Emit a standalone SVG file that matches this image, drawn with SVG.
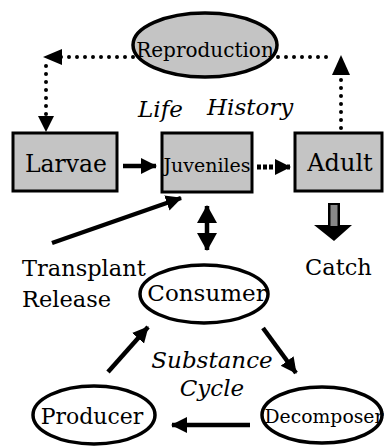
<svg xmlns="http://www.w3.org/2000/svg" width="384" height="448" viewBox="0 0 384 448">
<style>
.lbl{font-family:'DejaVu Serif','Liberation Serif',serif;fill:#000}
.it{font-family:'DejaVu Serif','Liberation Serif',serif;font-style:italic;fill:#000}
.box{fill:#c4c4c4;stroke:#000;stroke-width:3}
.ell{fill:#fff;stroke:#000;stroke-width:3.5}
.dot{fill:none;stroke:#000;stroke-width:4;stroke-linecap:round;stroke-dasharray:0 8}
.arr{fill:none;stroke:#000;stroke-width:4.5}
</style>
<defs>
<marker id="ah" markerUnits="userSpaceOnUse" markerWidth="18" markerHeight="18" refX="15" refY="9" orient="auto">
<path d="M0,1 L16,9 L0,17 Z" fill="#000"/>
</marker>
<marker id="ahs" markerUnits="userSpaceOnUse" markerWidth="20" markerHeight="22" refX="17" refY="11" orient="auto-start-reverse">
<path d="M0,1 L18,11 L0,21 Z" fill="#000"/>
</marker>
</defs>
<rect width="384" height="448" fill="#fff"/>

<g id="connectors">
<polyline class="dot" points="133,57 60,57"/>
<path d="M43,57 L62,49 L62,65 Z" fill="#000"/>
<polyline class="dot" points="46,66 46,116"/>
<path d="M38,116 L54,116 L46,132 Z" fill="#000"/>
<polyline class="dot" points="278,57 333,57"/>
<path d="M341,55 L332,75 L350,75 Z" fill="#000"/>
<polyline class="dot" points="341,80 341,130"/>
<line class="arr" x1="123" y1="166" x2="156" y2="166" marker-end="url(#ah)"/>
<line x1="257" y1="167" x2="290" y2="167" stroke="#000" stroke-width="5" stroke-dasharray="4 2" marker-end="url(#ah)"/>
<line class="arr" x1="52" y1="243" x2="181" y2="198" marker-end="url(#ah)"/>
<line class="arr" x1="207" y1="206" x2="207" y2="250" marker-start="url(#ahs)" marker-end="url(#ahs)"/>
<path d="M328,203 L340,203 L340,225 L352,225 L334,241 L314,225 L328,225 Z" fill="#000"/>
<rect x="330.5" y="205" width="7" height="21" fill="#888"/>
<line class="arr" x1="108" y1="372" x2="148" y2="327" marker-end="url(#ah)"/>
<line class="arr" x1="263" y1="328" x2="296" y2="373" marker-end="url(#ah)"/>
<line class="arr" x1="250" y1="425" x2="172" y2="425" marker-end="url(#ah)"/>
</g>

<g id="reproduction">
<ellipse cx="205" cy="45" rx="72" ry="32" fill="#c4c4c4" stroke="#000" stroke-width="3.5"/>
<text class="lbl" x="205" y="57" font-size="20" text-anchor="middle">Reproduction</text>
</g>
<g id="life-history">
<text class="it" x="138" y="117" font-size="23">Life</text>
<text class="it" x="207" y="115" font-size="23">History</text>
</g>
<g id="larvae">
<rect class="box" x="13" y="133" width="104" height="58"/>
<text class="lbl" x="66" y="172" font-size="23.5" text-anchor="middle">Larvae</text>
</g>
<g id="juveniles">
<rect class="box" x="162" y="133" width="90" height="59"/>
<text class="lbl" x="207" y="172" font-size="19" text-anchor="middle">Juveniles</text>
</g>
<g id="adult">
<rect class="box" x="295" y="133" width="87" height="58"/>
<text class="lbl" x="340" y="171" font-size="24" text-anchor="middle">Adult</text>
</g>
<g id="transplant">
<text class="lbl" x="22" y="276" font-size="22.5">Transplant</text>
<text class="lbl" x="22" y="307" font-size="22.5">Release</text>
</g>
<g id="catch">
<text class="lbl" x="305" y="275" font-size="22.5">Catch</text>
</g>
<g id="consumer">
<ellipse class="ell" cx="204" cy="294" rx="64" ry="29"/>
<text class="lbl" x="207" y="301" font-size="23" text-anchor="middle">Consumer</text>
</g>
<g id="substance-cycle">
<text class="it" x="212" y="368" font-size="23" text-anchor="middle">Substance</text>
<text class="it" x="212" y="396" font-size="23" text-anchor="middle">Cycle</text>
</g>
<g id="producer">
<ellipse class="ell" cx="94" cy="415" rx="61" ry="29"/>
<text class="lbl" x="92" y="424" font-size="22" text-anchor="middle">Producer</text>
</g>
<g id="decomposer">
<ellipse class="ell" cx="322" cy="415" rx="60" ry="28"/>
<text class="lbl" x="324" y="423" font-size="18.8" text-anchor="middle">Decomposer</text>
</g>
</svg>
